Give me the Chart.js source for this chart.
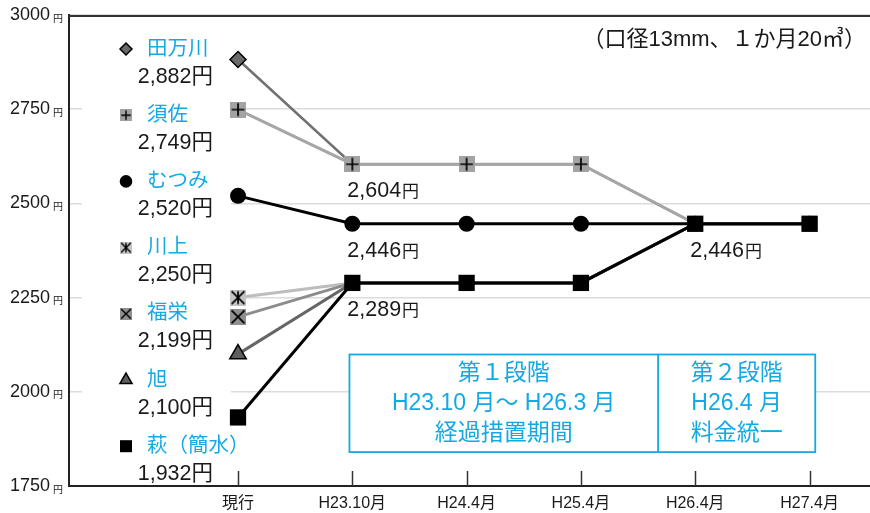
<!DOCTYPE html>
<html lang="ja">
<head>
  <meta charset="UTF-8" />
  <title>水道料金の推移</title>
  <script src="https://cdn.jsdelivr.net/npm/chart.js"></script>
  <style>
    html, body { margin: 0; padding: 0; background: #fff; }
    #wrap { width: 870px; height: 513px; position: relative; }
  </style>
</head>
<body>
  <div id="wrap"><canvas id="chart" width="870" height="513"></canvas></div>

  <script>
    // データ
    const periods = ['現行', 'H23.10月', 'H24.4月', 'H25.4月', 'H26.4月', 'H27.4月'];
    const areaNames = ['田万川', '須佐', 'むつみ', '川上', '福栄', '旭', '萩（簡水）'];
    const tamagawa = [2882, 2604, 2604, 2604, 2446, 2446];
    const susa     = [2749, 2604, 2604, 2604, 2446, 2446];
    const mutsumi  = [2520, 2446, 2446, 2446, 2446, 2446];
    const kawakami = [2250, 2289, 2289, 2289, 2446, 2446];
    const fukue    = [2199, 2289, 2289, 2289, 2446, 2446];
    const asahi    = [2100, 2289, 2289, 2289, 2446, 2446];
    const hagi     = [1932, 2289, 2289, 2289, 2446, 2446];
    const yTicks = [1750, 2000, 2250, 2500, 2750, 3000];
    const callouts = [[1, 2604], [1, 2446], [1, 2289], [4, 2446]];
    const phase1 = ['第１段階', 'H23.10 月～ H26.3 月', '経過措置期間'];
    const phase2 = ['第２段階', 'H26.4 月', '料金統一'];
    const note = '（口径13mm、１か月20㎥）';

    const series = [tamagawa, susa, mutsumi, kawakami, fukue, asahi, hagi];

    const CYAN = '#15a9e3';
    const INK = '#1a1a1a';
    const JP = '"Liberation Sans", "Noto Sans CJK JP", sans-serif';

    // 四角の中に線を描いたマーカー
    function boxMark(size, fill, kind) {
      const c = document.createElement('canvas');
      c.width = size; c.height = size;
      const g = c.getContext('2d');
      g.fillStyle = fill;
      g.fillRect(0, 0, size, size);
      g.strokeStyle = '#000';
      g.lineWidth = size > 13 ? 1.7 : 1.4;
      const m = size * 0.1, a = size - m, h = size / 2;
      g.beginPath();
      if (kind === 'plus' || kind === 'star') { g.moveTo(h, m); g.lineTo(h, a); }
      if (kind === 'plus') { g.moveTo(m, h); g.lineTo(a, h); }
      if (kind === 'x' || kind === 'star') {
        g.moveTo(m, m); g.lineTo(a, a);
        g.moveTo(a, m); g.lineTo(m, a);
      }
      g.stroke();
      return c;
    }

    const styles = [
      { line: '#707070', width: 2.5, point: 'rectRot', r: 8, lr: 6, fill: '#6a6a6a', bw: 1.5, order: 6, only1: true },
      { line: '#a6a6a6', width: 3, point: boxMark(16, '#a3a3a3', 'plus'), r: 8, lpoint: boxMark(12, '#a3a3a3', 'plus'), order: 1 },
      { line: '#000', width: 3, point: 'circle', r: 8, lr: 6.3, fill: '#000', bw: 0, order: 2 },
      { line: '#bdbdbd', width: 3, point: boxMark(16, '#c4c4c4', 'star'), r: 8, lpoint: boxMark(12, '#c4c4c4', 'star'), order: 5, only1: true },
      { line: '#8c8c8c', width: 3, point: boxMark(16, '#8f8f8f', 'x'), r: 8, lpoint: boxMark(12, '#8f8f8f', 'x'), order: 4, only1: true },
      { line: '#666', width: 3, point: 'triangle', r: 9.5, lr: 7, fill: '#5e5e5e', bw: 1.5, order: 3, only1: true },
      { line: '#000', width: 3, point: 'rect', r: 11.5, lr: 8.5, fill: '#000', bw: 0, order: 0 }
    ];

    const datasets = series.map((vals, i) => {
      const s = styles[i];
      return {
        label: areaNames[i],
        data: vals.map((v, k) => ({ x: k, y: v })),
        borderColor: s.line,
        borderWidth: s.width,
        tension: 0,
        order: s.order,
        pointStyle: s.point,
        pointRadius: vals.map((v, k) => (s.only1 && k > 0) ? 0 : s.r),
        pointBackgroundColor: s.fill || '#000',
        pointBorderColor: '#000',
        pointBorderWidth: s.bw || 0
      };
    });

    function drawMarker(ctx, s, x, y) {
      if (s.lpoint) {
        ctx.drawImage(s.lpoint, x - s.lpoint.width / 2, y - s.lpoint.height / 2);
        return;
      }
      ctx.fillStyle = s.fill;
      ctx.strokeStyle = '#000';
      ctx.lineWidth = s.bw || 0;
      Chart.helpers.drawPoint(ctx, { pointStyle: s.point, radius: s.lr, borderWidth: s.bw || 0, rotation: 0 }, x, y);
    }

    const decor = {
      id: 'decor',
      beforeDatasetsDraw(chart) {
        const { ctx, chartArea: ca, scales: { x, y } } = chart;
        ctx.save();
        // 上の枠線
        ctx.strokeStyle = '#333';
        ctx.lineWidth = 2;
        ctx.beginPath();
        ctx.moveTo(ca.left, ca.top + 1);
        ctx.lineTo(ca.right, ca.top + 1);
        ctx.stroke();
        // 目盛り（内向き）
        ctx.lineWidth = 1.5;
        periods.forEach((p, i) => {
          const px = Math.round(x.getPixelForValue(i)) + 0.5;
          ctx.beginPath();
          ctx.moveTo(px, ca.bottom);
          ctx.lineTo(px, ca.bottom - 15);
          ctx.stroke();
        });
        // 凡例の下地
        ctx.fillStyle = '#fff';
        ctx.fillRect(82, 22, 149, 460);

        // 段階の枠
        const x0 = x.getPixelForValue(0.975), x1 = x.getPixelForValue(3.675), x2 = x.getPixelForValue(5.05);
        const yt = y.getPixelForValue(2099), yb = y.getPixelForValue(1840);
        ctx.fillRect(x0, yt, x2 - x0, yb - yt);
        ctx.strokeStyle = CYAN;
        ctx.lineWidth = 1.8;
        ctx.strokeRect(x0, yt, x2 - x0, yb - yt);
        ctx.beginPath();
        ctx.moveTo(x1, yt); ctx.lineTo(x1, yb);
        ctx.stroke();
        ctx.fillStyle = CYAN;
        ctx.font = '23px ' + JP;
        ctx.textAlign = 'center';
        ctx.textBaseline = 'middle';
        const yc = (yt + yb) / 2;
        phase1.forEach((t, i) => ctx.fillText(t, (x0 + x1) / 2, yc + (i - 1) * 30));
        phase2.forEach((t, i) => ctx.fillText(t, (x1 + x2) / 2, yc + (i - 1) * 30));
        ctx.restore();
      },
      afterDatasetsDraw(chart) {
        const { ctx, scales: { x, y } } = chart;
        ctx.save();
        // 数値ラベル
        ctx.fillStyle = INK;
        ctx.textBaseline = 'alphabetic';
        ctx.textAlign = 'left';
        callouts.forEach(([i, v]) => {
          const px = x.getPixelForValue(i) - 5;
          const py = y.getPixelForValue(v) + 33;
          const num = v.toLocaleString('en-US');
          ctx.font = '21.5px ' + JP;
          ctx.fillText(num, px, py);
          const w = ctx.measureText(num).width;
          ctx.font = '17px ' + JP;
          ctx.fillText('円', px + w + 1, py);
        });

        // 凡例
        areaNames.forEach((name, i) => {
          const cy = 49 + i * 66.2;
          drawMarker(ctx, styles[i], 126, cy);
          ctx.fillStyle = CYAN;
          ctx.font = '20.5px ' + JP;
          ctx.textAlign = 'left';
          ctx.textBaseline = 'middle';
          ctx.fillText(name, 147, cy);
          ctx.fillStyle = INK;
          ctx.font = '21.5px ' + JP;
          ctx.textAlign = 'right';
          ctx.textBaseline = 'alphabetic';
          ctx.fillText(series[i][0].toLocaleString('en-US') + '円', 213, cy + 33.5);
        });

        // Y軸の単位
        ctx.font = '10px ' + JP;
        ctx.textAlign = 'left';
        ctx.fillStyle = INK;
        yTicks.forEach(v => ctx.fillText('円', 53, y.getPixelForValue(v) + 6.5));

        // 注記
        ctx.font = '22px ' + JP;
        ctx.textAlign = 'right';
        ctx.textBaseline = 'middle';
        ctx.fillText(note, 866, 40);
        ctx.restore();
      }
    };

    new Chart(document.getElementById('chart'), {
      type: 'line',
      data: { datasets },
      options: {
        responsive: false,
        animation: false,
        events: [],
        layout: { autoPadding: false, padding: { top: 15, right: 0, left: 10, bottom: 0 } },
        plugins: { legend: { display: false }, tooltip: { enabled: false } },
        scales: {
          x: {
            type: 'linear',
            min: -1.4786,
            max: 5.529,
            afterBuildTicks: s => { s.ticks = periods.map((p, i) => ({ value: i })); },
            afterFit: s => { s.height = 27; },
            grid: { drawOnChartArea: false, drawTicks: false },
            border: { color: '#222', width: 2 },
            ticks: {
              padding: 8,
              color: INK,
              font: { family: JP, size: 16 },
              maxRotation: 0,
              callback: v => periods[v]
            }
          },
          y: {
            min: 1750,
            max: 3000,
            afterBuildTicks: s => { s.ticks = yTicks.map(v => ({ value: v })); },
            afterFit: s => { s.width = 59; },
            grid: { color: '#dcdcdc', lineWidth: 1.5, drawTicks: false },
            border: { color: '#222', width: 2 },
            ticks: {
              padding: 0,
              crossAlign: 'far',
              color: INK,
              font: { family: JP, size: 18 },
              callback: v => String(v)
            }
          }
        }
      },
      plugins: [decor]
    });
  </script>
</body>
</html>
